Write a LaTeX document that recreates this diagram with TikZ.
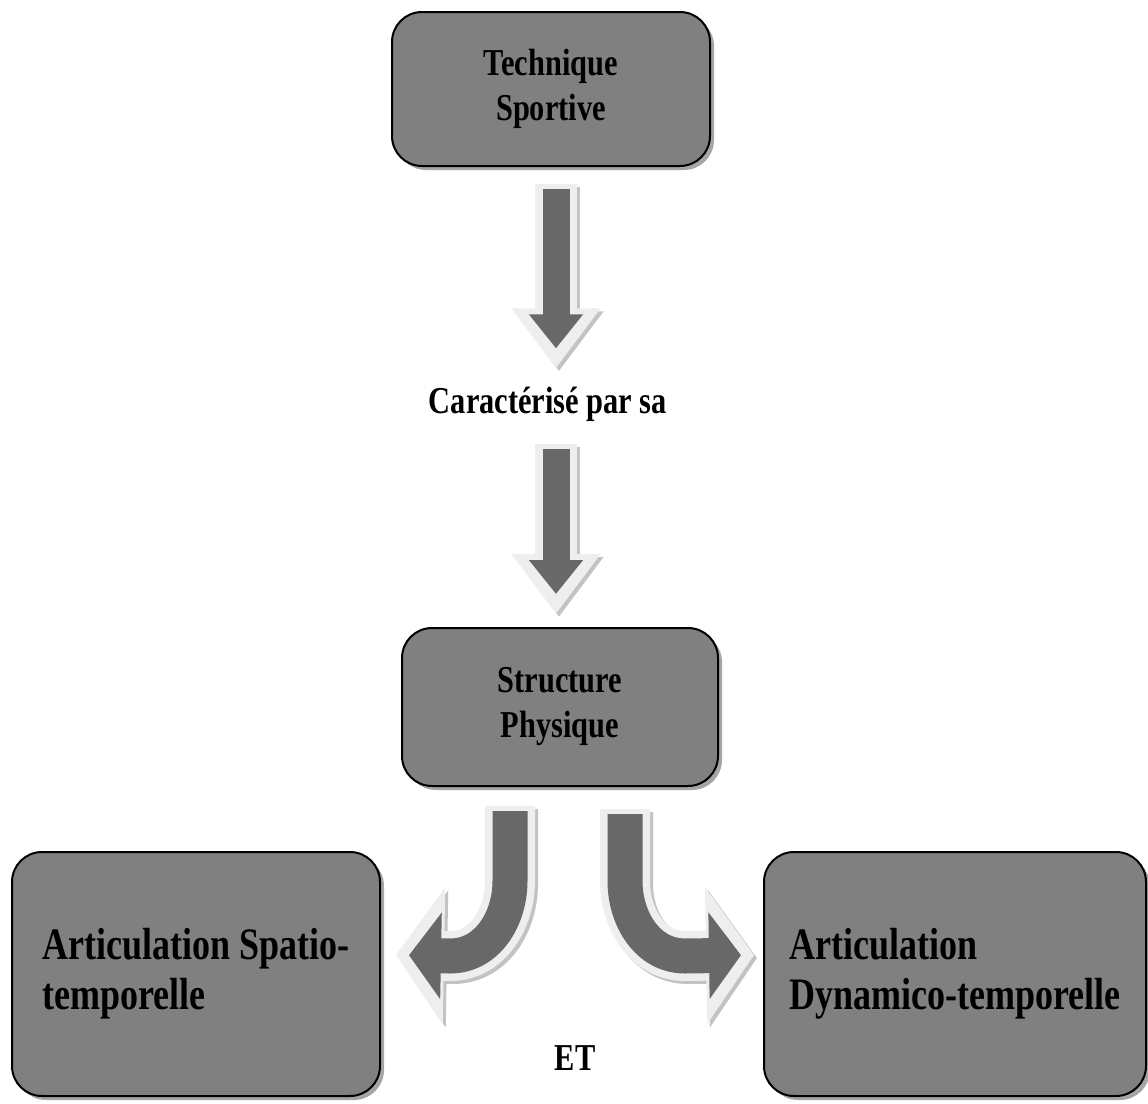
\documentclass[tikz,border=0pt]{standalone}
\usepackage{fontspec}
\setmainfont{Liberation Serif}[FakeStretch=0.8]
\usetikzlibrary{arrows.meta,shadows,calc}
\definecolor{boxgray}{RGB}{128,128,128}
\definecolor{coregray}{RGB}{104,104,104}
\definecolor{rimgray}{RGB}{238,238,238}
\definecolor{shadegray}{RGB}{195,195,195}
\begin{document}
\begin{tikzpicture}[x=0.5pt, y=-0.5pt,
    box/.style={draw=black, line width=1pt, fill=boxgray, rounded corners=15pt, align=left,
      drop shadow={shadow xshift=2pt, shadow yshift=-2pt, fill=black!70}},
    smallfont/.style={font=\bfseries\fontsize{19pt}{22.5pt}\selectfont},
    bigfont/.style={font=\bfseries\fontsize{22.5pt}{25pt}\selectfont},
    arrowrim/.style n args={3}{draw=rimgray, line width=#1, -{Triangle[width=#2, length=#3]}},
    arrowcore/.style n args={4}{draw=coregray, line width=#1, -{Triangle[width=#2, length=#3]},
      shorten <=2.5pt, shorten >=#4},
    arrowshade/.style={draw=shadegray, transform canvas={shift={(1.5pt,-1.5pt)}}}]
  \useasboundingbox (0,0) rectangle (1148,1104);
  \node [box, smallfont, align=center, minimum width=159pt, minimum height=77pt] (top) at (551,89) {Technique\\Sportive};
  \node [smallfont, inner sep=0pt] (cap) at (548,404) {Caractérisé par sa};
  \node [box, smallfont, align=center, minimum width=158pt, minimum height=79pt] (struct) at (560,707) {Structure\\Physique};
  \node [box, bigfont, minimum width=184pt, minimum height=122pt] (left) at (196,974) {Articulation Spatio-\\temporelle};
  \node [box, bigfont, minimum width=191pt, minimum height=122pt] (right) at (955,974) {Articulation\\Dynamico-temporelle};
  \node [smallfont, inner sep=0pt] (et) at (575,1058) {ET};
  \draw [arrowrim={21pt}{42.5pt}{30pt}, arrowshade] ($(top.south)+(5,17)$) -- ($(cap.north)+(8,-18)$);
  \draw [arrowrim={21pt}{42.5pt}{30pt}] ($(top.south)+(5,17)$) -- ($(cap.north)+(8,-18)$);
  \draw [arrowcore={13.5pt}{26pt}{17pt}{10pt}] ($(top.south)+(5,17)$) -- ($(cap.north)+(8,-18)$);
  \draw [arrowrim={21pt}{42.5pt}{30pt}, arrowshade] ($(cap.south)+(8,22)$) -- ($(struct.north)+(-4,-13)$);
  \draw [arrowrim={21pt}{42.5pt}{30pt}] ($(cap.south)+(8,22)$) -- ($(struct.north)+(-4,-13)$);
  \draw [arrowcore={13.5pt}{26pt}{17pt}{10pt}] ($(cap.south)+(8,22)$) -- ($(struct.north)+(-4,-13)$);
  \draw [arrowrim={25pt}{67.5pt}{24pt}, arrowshade] ($(struct.south)+(-50,19)$) -- ++(0,75) to [out=-90, in=0] ++(-60,75) -- ($(left.east)+(15,-19)$);
  \draw [arrowrim={25pt}{67.5pt}{24pt}] ($(struct.south)+(-50,19)$) -- ++(0,75) to [out=-90, in=0] ++(-60,75) -- ($(left.east)+(15,-19)$);
  \draw [arrowcore={17.5pt}{42.5pt}{16pt}{6.5pt}] ($(struct.south)+(-50,19)$) -- ++(0,75) to [out=-90, in=0] ++(-60,75) -- ($(left.east)+(15,-19)$);
  \draw [arrowrim={25pt}{67.5pt}{24pt}, arrowshade] ($(struct.south)+(65,22)$) -- ++(0,72) to [out=-90, in=180] ++(60,75) -- ($(right.west)+(-9,-19)$);
  \draw [arrowrim={25pt}{67.5pt}{24pt}] ($(struct.south)+(65,22)$) -- ++(0,72) to [out=-90, in=180] ++(60,75) -- ($(right.west)+(-9,-19)$);
  \draw [arrowcore={17.5pt}{42.5pt}{16pt}{6.5pt}] ($(struct.south)+(65,22)$) -- ++(0,72) to [out=-90, in=180] ++(60,75) -- ($(right.west)+(-9,-19)$);
\end{tikzpicture}
\end{document}
